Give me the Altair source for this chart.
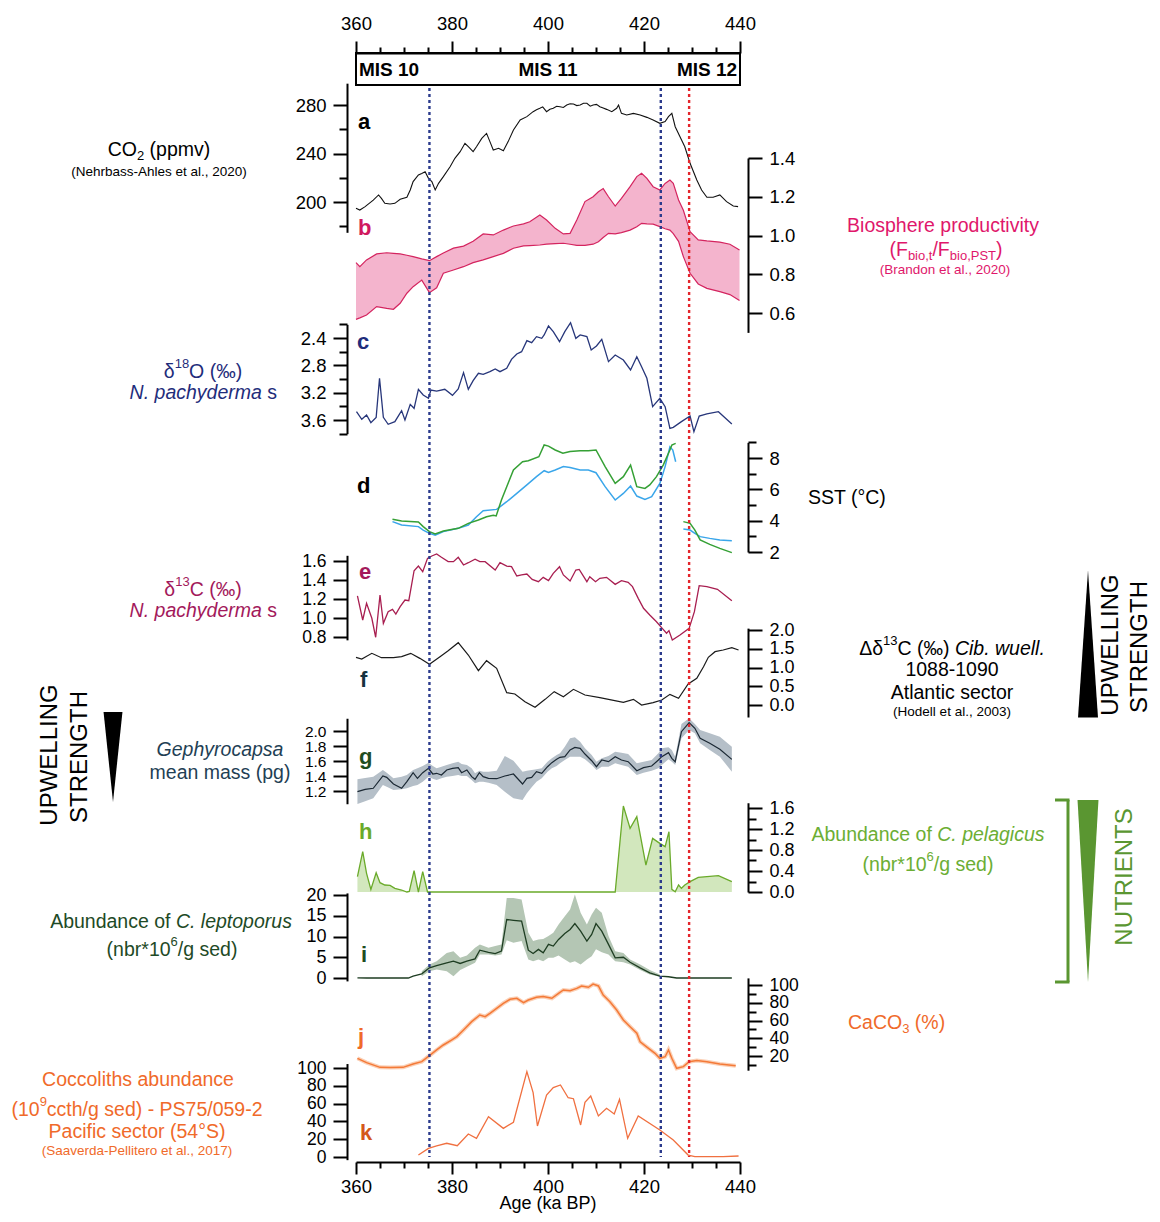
import altair as alt
import pandas as pd

FONT = "Liberation Sans"
L0, T0 = 356, 53          # page position of the plot-area origin
W, H = 384, 1109

# ------------------------------------------------------------------ data
# a  CO2 (ppmv)
co2_age = [360.0, 360.8, 361.9, 363.6, 364.7, 365.3, 366.0, 367.1, 368.1, 369.2, 370.6, 371.3, 371.9, 373.0, 373.7, 374.4,
           375.1, 375.8, 376.5, 377.2, 378.2, 379.6, 380.6, 381.7, 382.7, 383.4, 384.4, 385.1, 386.2, 387.2, 387.9, 388.6,
           389.7, 390.7, 391.7, 392.8, 394.2, 395.6, 396.9, 397.6, 398.3, 398.9, 399.7, 400.4, 401.1, 401.8, 402.5, 403.2,
           403.9, 404.6, 405.3, 406.0, 406.7, 407.4, 408.1, 408.8, 409.4, 410.1, 410.8, 411.5, 412.2, 413.3, 414.3, 414.7,
           415.3, 416.4, 417.8, 419.2, 420.6, 421.9, 423.3, 424.4, 425.1, 425.8, 426.5, 427.5, 428.5, 429.6, 431.0, 432.0,
           433.1, 434.4, 435.8, 437.2, 438.6, 439.6]
co2_val = [194.8, 193.4, 196.2, 201.6, 205.8, 203.0, 198.9, 198.4, 198.9, 202.2, 203.9, 209.9, 216.8, 222.3, 223.6, 225.0,
           219.5, 216.8, 209.9, 215.4, 220.9, 229.1, 236.0, 241.5, 248.4, 245.6, 241.5, 245.6, 252.5, 256.6, 249.8, 242.9,
           244.3, 242.3, 249.8, 259.4, 267.6, 270.4, 274.5, 276.0, 277.3, 278.5, 274.5, 276.5, 277.3, 279.0, 278.6, 278.0,
           280.0, 281.0, 280.8, 279.5, 280.0, 281.5, 281.4, 279.0, 280.0, 280.5, 278.6, 277.5, 276.4, 274.5, 277.3, 280.0,
           273.1, 271.8, 273.1, 271.8, 269.8, 267.6, 264.9, 266.3, 270.4, 273.1, 262.1, 253.9, 245.6, 231.9, 218.1, 209.9,
           203.9, 203.9, 205.8, 200.3, 196.7, 196.2]

# b  Biosphere productivity (band)
bio_age = [360.0, 360.8, 362.2, 364.3, 366.4, 367.8, 369.2, 370.6, 371.9, 373.7, 375.3, 376.8, 378.2, 380.3, 382.4, 384.4,
           386.5, 388.6, 390.7, 392.8, 394.9, 396.2, 398.3, 399.7, 401.5, 403.2, 404.6, 406.0, 407.7, 409.4, 410.5, 411.5,
           412.6, 414.0, 415.3, 417.1, 418.5, 419.5, 420.6, 421.9, 423.3, 424.4, 425.4, 426.1, 427.2, 428.2, 429.6, 431.3,
           433.1, 435.8, 437.9, 439.9]
bio_hi = [0.860, 0.839, 0.874, 0.905, 0.911, 0.908, 0.905, 0.898, 0.891, 0.879, 0.870, 0.891, 0.910, 0.935, 0.945, 0.970,
          1.008, 1.003, 1.028, 1.049, 1.060, 1.071, 1.106, 1.080, 1.037, 1.008, 1.011, 1.080, 1.175, 1.200, 1.226, 1.242,
          1.200, 1.152, 1.192, 1.252, 1.304, 1.321, 1.295, 1.252, 1.235, 1.269, 1.286, 1.269, 1.183, 1.130, 1.020, 0.977,
          0.972, 0.966, 0.955, 0.925]
bio_lo = [0.567, 0.575, 0.590, 0.633, 0.624, 0.619, 0.650, 0.702, 0.736, 0.770, 0.705, 0.730, 0.805, 0.822, 0.839, 0.860,
          0.874, 0.891, 0.908, 0.934, 0.946, 0.948, 0.951, 0.955, 0.958, 0.960, 0.955, 0.949, 0.949, 0.955, 0.968, 0.990,
          1.011, 1.008, 1.015, 1.028, 1.045, 1.063, 1.060, 1.059, 1.046, 1.035, 1.028, 1.010, 0.970, 0.891, 0.805, 0.750,
          0.727, 0.710, 0.695, 0.664]

# c  d18O N. pachyderma s
d18o_age = [360.1, 361.2, 362.2, 363.1, 364.2, 364.9, 365.7, 366.7, 368.1, 369.5, 370.2, 371.3, 372.1, 373.0, 374.0, 375.1,
            375.6, 376.8, 378.5, 380.1, 381.3, 382.4, 383.4, 384.4, 385.5, 386.5, 387.9, 389.0, 390.0, 391.4, 392.4, 393.5,
            394.5, 395.6, 396.6, 397.6, 398.7, 399.2, 400.1, 401.1, 402.4, 403.5, 404.7, 405.8, 406.7, 408.1, 409.0, 410.1,
            411.2, 412.6, 414.0, 415.7, 417.2, 418.5, 419.5, 420.6, 421.8, 423.3, 424.4, 425.4, 426.1, 427.8, 429.6, 430.4,
            431.5, 433.1, 435.5, 438.3]
d18o_val = [3.478, 3.590, 3.527, 3.639, 3.561, 2.990, 3.561, 3.663, 3.624, 3.463, 3.600, 3.371, 3.429, 3.151, 3.234, 3.283,
            3.161, 3.176, 3.151, 3.239, 3.146, 2.907, 3.151, 3.024, 2.917, 2.932, 2.893, 2.854, 2.893, 2.844, 2.712, 2.634,
            2.600, 2.439, 2.468, 2.380, 2.405, 2.356, 2.224, 2.307, 2.454, 2.307, 2.176, 2.405, 2.356, 2.380, 2.576, 2.517,
            2.420, 2.746, 2.649, 2.722, 2.868, 2.673, 2.820, 2.990, 3.405, 3.283, 3.405, 3.722, 3.707, 3.624, 3.542, 3.771,
            3.542, 3.512, 3.478, 3.659]

# d  SST (two records, each with a gap)
sstg_age1 = [367.6, 369.5, 373.0, 374.0, 375.3, 376.5, 378.2, 381.3, 383.4, 385.5, 387.2, 388.6, 389.2, 390.3, 391.4, 392.8,
             394.7, 395.9, 398.1, 399.2, 400.1, 401.5, 403.1, 404.6, 406.7, 408.4, 410.0, 411.9, 414.0, 415.7, 417.2, 418.5,
             420.2, 421.2, 422.6, 424.0, 425.4, 425.8, 426.6]
sstg_val1 = [4.09, 3.98, 3.91, 3.62, 3.30, 3.15, 3.34, 3.51, 3.83, 4.04, 4.25, 4.34, 4.30, 5.32, 6.17, 7.23,
             7.76, 7.83, 8.08, 8.83, 8.76, 8.51, 8.30, 8.42, 8.47, 8.47, 8.51, 7.45, 6.38, 6.81, 7.55, 6.17,
             6.06, 6.28, 6.81, 7.55, 8.51, 8.83, 8.93]
sstg_age2 = [428.2, 429.6, 430.6, 431.7, 433.7, 435.8, 438.3]
sstg_val2 = [3.94, 3.83, 3.40, 2.77, 2.49, 2.23, 1.96]
sstb_age1 = [367.6, 369.5, 373.0, 374.0, 375.3, 376.5, 378.2, 381.3, 383.4, 385.1, 386.5, 389.3, 391.4, 393.5, 395.6, 397.6,
             399.2, 400.1, 401.5, 403.2, 404.6, 406.7, 408.4, 410.0, 411.9, 414.0, 415.7, 417.2, 418.5, 420.2, 421.6, 423.3,
             424.4, 425.4, 426.0, 426.6]
sstb_val1 = [3.94, 3.72, 3.62, 3.40, 3.19, 3.08, 3.30, 3.51, 3.72, 4.25, 4.64, 4.72, 5.21, 5.74, 6.28, 6.81,
             7.19, 7.08, 7.23, 7.45, 7.40, 7.23, 7.23, 7.06, 6.17, 5.32, 5.74, 6.21, 5.57, 5.36, 5.53, 6.38,
             7.45, 8.72, 8.51, 7.76]
sstb_age2 = [428.2, 429.6, 430.6, 431.7, 433.7, 435.8, 438.3]
sstb_val2 = [3.47, 3.40, 3.19, 2.98, 2.87, 2.77, 2.72]

# e  d13C N. pachyderma s
d13c_age = [360.3, 361.4, 362.2, 363.3, 364.1, 365.0, 365.7, 366.7, 367.6, 368.3, 369.2, 370.2, 371.0, 372.1, 373.0, 373.9,
            374.9, 375.8, 376.8, 377.8, 379.2, 380.3, 381.3, 382.4, 383.4, 384.8, 385.8, 386.9, 389.0, 390.0, 391.4, 392.4,
            393.5, 394.5, 395.6, 396.7, 398.0, 399.0, 400.1, 401.1, 402.4, 403.2, 404.6, 405.8, 406.5, 408.1, 408.7, 409.9,
            410.8, 412.2, 414.0, 415.3, 416.7, 417.6, 418.8, 419.9, 421.2, 422.6, 423.8, 424.7, 425.2, 425.9, 427.5, 429.4,
            430.5, 431.5, 433.1, 435.3, 438.3]
d13c_val = [1.232, 0.979, 1.155, 0.997, 0.797, 1.242, 0.944, 1.067, 1.091, 1.042, 1.119, 1.189, 1.182, 1.498, 1.547, 1.488,
            1.628, 1.653, 1.674, 1.639, 1.593, 1.593, 1.639, 1.558, 1.582, 1.618, 1.593, 1.593, 1.505, 1.582, 1.547, 1.540,
            1.442, 1.453, 1.463, 1.407, 1.382, 1.428, 1.393, 1.470, 1.540, 1.453, 1.389, 1.505, 1.512, 1.382, 1.435, 1.382,
            1.418, 1.428, 1.354, 1.393, 1.375, 1.330, 1.207, 1.102, 1.032, 0.961, 0.891, 0.839, 0.867, 0.768, 0.821, 0.891,
            1.067, 1.340, 1.330, 1.302, 1.182]

# f  Delta d13C Cib. wuell. 1088-1090
dd13c_age = [360.0, 361.2, 363.3, 365.3, 367.8, 369.5, 371.4, 373.3, 375.3, 377.5, 379.2, 381.3, 383.4, 385.5, 387.2, 389.3,
             391.4, 393.1, 395.2, 397.3, 399.4, 401.3, 403.2, 405.3, 407.7, 410.8, 415.7, 417.8, 419.5, 421.9, 423.7, 425.4,
             427.2, 429.2, 431.0, 432.4, 433.4, 434.8, 436.5, 438.3, 439.7]
dd13c_val = [1.271, 1.227, 1.378, 1.262, 1.262, 1.289, 1.378, 1.244, 1.084, 1.289, 1.449, 1.662, 1.333, 0.916, 1.182, 0.978,
             0.329, 0.293, 0.089, -0.062, 0.151, 0.356, 0.222, 0.418, 0.267, 0.196, 0.071, 0.151, 0.000, 0.062, 0.133, 0.284,
             0.178, 0.560, 0.711, 1.022, 1.271, 1.422, 1.467, 1.529, 1.467]

# g  Gephyrocapsa mean mass (pg) with envelope
geph_age = [360.3, 361.9, 363.6, 365.6, 366.4, 367.8, 369.5, 370.6, 371.9, 372.8, 373.9, 375.1, 376.0, 376.8, 377.8, 378.9,
            380.1, 381.3, 382.0, 383.1, 384.1, 384.8, 385.7, 386.5, 387.6, 389.3, 391.0, 392.8, 394.7, 395.6, 396.6, 397.6,
            398.7, 399.9, 400.8, 401.8, 402.5, 403.5, 404.6, 405.6, 406.7, 407.7, 409.1, 410.1, 411.2, 412.6, 414.0, 415.3,
            416.7, 418.5, 419.9, 421.6, 423.0, 423.7, 425.1, 425.8, 426.5, 427.8, 429.4, 430.6, 431.7, 433.7, 435.8, 438.3]
geph_mean = [1.191, 1.222, 1.236, 1.400, 1.382, 1.293, 1.236, 1.324, 1.444, 1.369, 1.444, 1.502, 1.427, 1.436, 1.413, 1.480,
             1.502, 1.511, 1.444, 1.480, 1.391, 1.356, 1.444, 1.391, 1.369, 1.364, 1.400, 1.427, 1.293, 1.369, 1.382, 1.458,
             1.436, 1.524, 1.578, 1.622, 1.649, 1.658, 1.747, 1.782, 1.769, 1.693, 1.604, 1.524, 1.613, 1.591, 1.658, 1.613,
             1.591, 1.471, 1.511, 1.533, 1.613, 1.658, 1.711, 1.636, 1.591, 1.991, 2.111, 2.036, 1.902, 1.836, 1.756, 1.622]
geph_hi = [1.356, 1.373, 1.391, 1.480, 1.444, 1.369, 1.391, 1.413, 1.480, 1.502, 1.533, 1.578, 1.533, 1.502, 1.524, 1.547,
           1.569, 1.591, 1.560, 1.547, 1.502, 1.436, 1.471, 1.458, 1.458, 1.471, 1.667, 1.604, 1.458, 1.471, 1.480, 1.489,
           1.502, 1.591, 1.636, 1.680, 1.702, 1.791, 1.902, 1.916, 1.858, 1.769, 1.680, 1.591, 1.636, 1.667, 1.724, 1.711,
           1.693, 1.569, 1.591, 1.613, 1.702, 1.769, 1.782, 1.747, 1.658, 2.093, 2.169, 2.093, 2.013, 1.969, 1.924, 1.791]
geph_lo = [1.027, 1.062, 1.102, 1.280, 1.258, 1.213, 1.222, 1.236, 1.267, 1.280, 1.324, 1.391, 1.364, 1.347, 1.369, 1.391,
           1.400, 1.413, 1.400, 1.400, 1.347, 1.302, 1.324, 1.324, 1.311, 1.280, 1.191, 1.102, 1.080, 1.169, 1.249, 1.324,
           1.369, 1.458, 1.502, 1.533, 1.569, 1.613, 1.658, 1.658, 1.658, 1.622, 1.547, 1.480, 1.524, 1.524, 1.569, 1.547,
           1.524, 1.413, 1.444, 1.471, 1.502, 1.547, 1.622, 1.591, 1.547, 1.902, 2.013, 1.969, 1.836, 1.747, 1.658, 1.458]

# h  C. pelagicus abundance
pel_age = [360.3, 361.4, 362.2, 363.1, 364.2, 365.0, 366.0, 367.1, 368.1, 369.5, 370.6, 371.1, 372.1, 373.0, 373.9, 374.9,
           375.4, 414.0, 415.7, 417.1, 418.5, 420.4, 421.8, 423.3, 424.4, 425.2, 425.8, 426.5, 427.2, 427.8, 428.5, 429.6,
           431.3, 433.1, 435.5, 438.3]
pel_val = [0.292, 0.768, 0.356, 0.051, 0.368, 0.178, 0.133, 0.127, 0.070, 0.038, 0.000, 0.010, 0.406, 0.000, 0.387, 0.000,
           0.000, 0.000, 1.638, 1.213, 1.435, 0.514, 1.022, 0.927, 0.864, 1.149, 0.051, 0.006, 0.133, 0.070, 0.133, 0.197,
           0.279, 0.292, 0.311, 0.197]

# i  C. leptoporus abundance with envelope
lep_age = [360.3, 362.2, 364.3, 367.1, 369.2, 370.9, 371.9, 373.7, 375.3, 376.8, 378.9, 380.3, 381.7, 383.1, 384.8, 385.8,
           387.6, 389.0, 390.3, 391.4, 392.8, 394.5, 395.9, 396.9, 398.0, 399.0, 400.1, 401.1, 402.2, 403.5, 404.6, 405.6,
           406.8, 408.1, 409.1, 410.0, 411.2, 412.6, 414.0, 415.7, 417.1, 419.2, 421.2, 423.3, 425.1, 426.8, 429.6, 433.1,
           438.3]
lep_mean = [0.05, 0.0, 0.0, 0.05, 0.0, 0.0, 0.45, 1.0, 2.45, 3.0, 3.65, 4.05, 3.5, 4.05, 4.6, 6.7,
            6.2, 5.9, 6.5, 14.1, 13.9, 13.7, 6.7, 5.9, 6.9, 6.05, 8.1, 7.7, 9.3, 10.7, 11.7, 13.1,
            11.3, 8.9, 10.5, 13.1, 11.3, 8.1, 4.85, 5.0, 3.8, 2.45, 1.25, 0.45, 0.3, 0.0, 0.0, 0.0,
            0.0]
lepb_age = [373.7, 375.3, 376.8, 378.9, 380.3, 381.7, 383.1, 384.8, 385.8, 387.6, 389.0, 390.3, 391.4, 392.8, 394.5, 395.9,
            396.9, 398.0, 399.0, 400.1, 401.1, 402.2, 403.5, 404.6, 405.6, 406.8, 408.1, 409.1, 410.0, 411.2, 412.6, 414.0,
            415.7, 417.1, 419.2, 421.2, 423.3]
lepb_lo = [0.45, 1.65, 2.05, 1.65, 0.45, 1.9, 2.7, 3.65, 5.65, 5.65, 5.4, 5.65, 9.1, 8.5, 8.9, 4.45,
           4.05, 4.45, 4.05, 4.85, 4.85, 5.4, 4.45, 3.65, 4.05, 3.25, 4.45, 5.25, 6.9, 6.2, 5.65, 4.05,
           3.8, 3.25, 1.9, 0.85, 0.3]
lepb_hi = [1.65, 3.25, 4.05, 6.05, 6.45, 4.85, 5.4, 7.3, 8.1, 7.3, 7.7, 8.1, 19.3, 19.3, 18.9, 10.9,
           8.9, 9.3, 9.4, 10.1, 10.9, 12.9, 14.9, 16.5, 20.1, 15.7, 12.9, 15.3, 16.9, 15.7, 10.1, 6.45,
           6.05, 4.45, 3.25, 1.9, 0.85]

# j  CaCO3 (%)
caco3_age = [360.3, 362.2, 365.0, 367.1, 369.8, 371.9, 373.7, 375.1, 376.8, 378.2, 379.9, 381.0, 382.4, 384.1, 385.8, 386.9,
             387.9, 389.3, 390.7, 392.1, 393.5, 394.9, 395.9, 397.6, 399.0, 400.8, 402.2, 403.2, 404.6, 406.0, 407.0, 408.4,
             409.4, 410.5, 411.5, 412.9, 414.3, 415.7, 417.1, 418.5, 419.2, 420.6, 422.3, 423.3, 424.4, 425.1, 425.8, 426.8,
             428.2, 429.4, 431.0, 433.1, 435.8, 439.1]
caco3_val = [17.4, 12.5, 7.2, 7.0, 7.2, 11.0, 13.6, 19.5, 26.8, 32.4, 38.0, 41.8, 49.3, 58.7, 66.2, 64.3,
             68.1, 73.7, 79.4, 83.9, 85.0, 80.1, 83.1, 86.1, 86.9, 85.0, 90.6, 94.4, 93.6, 96.2, 98.9, 97.4,
             101.0, 98.9, 88.7, 81.2, 71.8, 60.6, 53.0, 45.6, 36.0, 30.0, 23.0, 17.4, 19.2, 26.8, 17.4, 6.1,
             8.0, 13.6, 14.8, 13.6, 11.0, 9.1]

# k  Coccoliths abundance PS75/059-2
cocco_age = [373.0, 375.1, 376.8, 378.9, 381.1, 383.4, 385.1, 387.6, 390.7, 392.8, 395.6, 396.9, 397.8, 399.7, 401.1, 402.6,
             404.2, 405.3, 406.8, 407.7, 408.9, 410.5, 412.2, 413.8, 414.9, 416.6, 418.8, 423.3, 426.1, 429.2, 430.6, 433.1,
             436.5, 439.7]
cocco_val = [2.2, 9.7, 12.4, 15.4, 12.7, 25.8, 21.0, 45.3, 32.2, 39.0, 95.9, 72.3, 34.8, 69.7, 77.9, 80.9,
             66.6, 65.5, 36.0, 61.4, 68.5, 46.1, 54.7, 48.3, 64.8, 21.0, 46.1, 30.3, 19.1, 2.2, 0.4, 0.4,
             0.4, 1.1]

# marine isotope stages and event lines
mis_names = ["MIS 10", "MIS 11", "MIS 12"]
mis_age = [360.6, 400.0, 439.4]
event_age = [375.3, 423.5, 429.4]
event_color = ["#2b3a8c", "#2b3a8c", "#e4252b"]
x_major = [360, 380, 400, 420, 440]
x_minor = [365, 370, 375, 385, 390, 395, 405, 410, 415, 425, 430, 435]

# ------------------------------------------------------------------ layout of the stacked panels
P = {
    'a': dict(anch=((280, 105), (200, 202)), dom=(175, 298), side='left', major=[200, 240, 280], minor=[180, 220, 260], fmt='d', fs=18.5),
    'b': dict(anch=((1.4, 158), (0.6, 313)), dom=(0.5, 1.4), side='right', major=[0.6, 0.8, 1.0, 1.2, 1.4], minor=[], fmt='.1f', fs=18.5),
    'c': dict(anch=((2.4, 338), (3.6, 420)), dom=(2.2, 3.8), side='left', major=[2.4, 2.8, 3.2, 3.6], minor=[2.2, 2.6, 3.0, 3.4, 3.8], fmt='.1f', fs=18.5),
    'd': dict(anch=((8, 458), (2, 552)), dom=(2, 9), side='right', major=[2, 4, 6, 8], minor=[3, 5, 7, 9], fmt='d', fs=18.5),
    'e': dict(anch=((1.6, 561), (0.8, 637)), dom=(0.77, 1.66), side='left', major=[0.8, 1.0, 1.2, 1.4, 1.6], minor=[], fmt='.1f', fs=17.5),
    'f': dict(anch=((2.0, 630), (0.0, 705)), dom=(-0.32, 2.05), side='right', major=[0.0, 0.5, 1.0, 1.5, 2.0], minor=[], fmt='.1f', fs=18),
    'g': dict(anch=((2.0, 731), (1.2, 791)), dom=(1.03, 2.17), side='left', major=[1.2, 1.4, 1.6, 1.8, 2.0], minor=[], fmt='.1f', fs=15.5),
    'h': dict(anch=((1.6, 808), (0.0, 892)), dom=(0.0, 1.7), side='right', major=[0.0, 0.4, 0.8, 1.2, 1.6], minor=[0.2, 0.6, 1.0, 1.4], fmt='.1f', fs=18),
    'i': dict(anch=((20, 895), (0, 978)), dom=(-0.7, 20.5), side='left', major=[0, 5, 10, 15, 20], minor=[], fmt='d', fs=18),
    'j': dict(anch=((100, 985), (20, 1056)), dom=(4, 108), side='right', major=[20, 40, 60, 80, 100], minor=[10, 30, 50, 70, 90], fmt='d', fs=17.5),
    'k': dict(anch=((100, 1068), (0, 1157)), dom=(-3, 105), side='left', major=[0, 20, 40, 60, 80, 100], minor=[], fmt='d', fs=17.5),
}

XS = alt.Scale(domain=[360, 440], nice=False, zero=False)


def X():
    return alt.X('age:Q', scale=XS, axis=None)


def py(p, v):
    (v1, y1), (v2, y2) = P[p]['anch']
    return y1 + (v - v1) * (y2 - y1) / (v2 - v1) - T0


def ysc(p):
    d = P[p]['dom']
    return alt.Scale(domain=list(d), range=[py(p, d[0]), py(p, d[1])], nice=False, zero=False)


def yaxis(p):
    c = P[p]
    left = c['side'] == 'left'
    return alt.Axis(orient=c['side'], offset=9 if left else 8, values=c['major'], format=c['fmt'],
                    tickSize=14, tickWidth=2, domainWidth=2, domainColor='black', tickColor='black',
                    labelColor='black', labelFont=FONT, labelFontSize=c['fs'], labelPadding=7, grid=False,
                    title=None, labelOverlap=False, labelFlush=False, labelBound=False)


def yminor(p):
    c = P[p]
    left = c['side'] == 'left'
    return alt.Axis(orient=c['side'], offset=9 if left else 8, values=c['minor'], tickSize=8, tickWidth=2,
                    tickColor='black', labels=False, domain=False, grid=False, title=None)


def Y(p, field, axis=None):
    return alt.Y(field, type='quantitative', scale=ysc(p), axis=axis)


layers = []


def panel_axes(p, data, field):
    layers.append(alt.Chart(data).mark_point(opacity=0).encode(x=X(), y=Y(p, field, yaxis(p))))
    if P[p]['minor']:
        layers.append(alt.Chart(data).mark_point(opacity=0).encode(x=X(), y=Y(p, field, yminor(p))))


# a
a_df = pd.DataFrame({'age': co2_age, 'v': co2_val})
layers.append(alt.Chart(a_df).mark_line(color='#111111', strokeWidth=1.1).encode(x=X(), y=Y('a', 'v')))
panel_axes('a', a_df, 'v')

# b
b_df = pd.DataFrame({'age': bio_age, 'hi': bio_hi, 'lo': bio_lo})
layers.append(alt.Chart(b_df).mark_area(color='#f4b4cd', opacity=1).encode(x=X(), y=Y('b', 'hi'), y2='lo'))
layers.append(alt.Chart(b_df).mark_line(color='#d4245f', strokeWidth=1.2).encode(x=X(), y=Y('b', 'hi')))
layers.append(alt.Chart(b_df).mark_line(color='#d4245f', strokeWidth=1.2).encode(x=X(), y=Y('b', 'lo')))
panel_axes('b', b_df, 'hi')

# c
c_df = pd.DataFrame({'age': d18o_age, 'v': d18o_val})
layers.append(alt.Chart(c_df).mark_line(color='#27367a', strokeWidth=1.3).encode(x=X(), y=Y('c', 'v')))
panel_axes('c', c_df, 'v')

# d
dg = pd.concat([pd.DataFrame({'age': sstg_age1, 'v': sstg_val1, 'seg': 1}),
                pd.DataFrame({'age': sstg_age2, 'v': sstg_val2, 'seg': 2})])
db = pd.concat([pd.DataFrame({'age': sstb_age1, 'v': sstb_val1, 'seg': 1}),
                pd.DataFrame({'age': sstb_age2, 'v': sstb_val2, 'seg': 2})])
layers.append(alt.Chart(db).mark_line(color='#3aa6ea', strokeWidth=1.5).encode(x=X(), y=Y('d', 'v'), detail='seg:N'))
layers.append(alt.Chart(dg).mark_line(color='#35a035', strokeWidth=1.5).encode(x=X(), y=Y('d', 'v'), detail='seg:N'))
panel_axes('d', dg, 'v')

# e
e_df = pd.DataFrame({'age': d13c_age, 'v': d13c_val})
layers.append(alt.Chart(e_df).mark_line(color='#a81e50', strokeWidth=1.3).encode(x=X(), y=Y('e', 'v')))
panel_axes('e', e_df, 'v')

# f
f_df = pd.DataFrame({'age': dd13c_age, 'v': dd13c_val})
layers.append(alt.Chart(f_df).mark_line(color='#1a1a1a', strokeWidth=1.2).encode(x=X(), y=Y('f', 'v')))
panel_axes('f', f_df, 'v')

# g
g_df = pd.DataFrame({'age': geph_age, 'm': geph_mean, 'hi': geph_hi, 'lo': geph_lo})
layers.append(alt.Chart(g_df).mark_area(color='#b5bfc8', opacity=1).encode(x=X(), y=Y('g', 'hi'), y2='lo'))
layers.append(alt.Chart(g_df).mark_line(color='#1b2833', strokeWidth=1.2).encode(x=X(), y=Y('g', 'm')))
panel_axes('g', g_df, 'm')

# h
h_df = pd.DataFrame({'age': pel_age, 'v': pel_val})
layers.append(alt.Chart(h_df).mark_area(color='#d2e7bd', opacity=1, line={'color': '#6aaa2a', 'strokeWidth': 1.3}).encode(x=X(), y=Y('h', 'v')))
panel_axes('h', h_df, 'v')

# i
i_df = pd.DataFrame({'age': lep_age, 'm': lep_mean})
ib_df = pd.DataFrame({'age': lepb_age, 'hi': lepb_hi, 'lo': lepb_lo})
layers.append(alt.Chart(ib_df).mark_area(color='#b4c6b4', opacity=1).encode(x=X(), y=Y('i', 'hi'), y2='lo'))
layers.append(alt.Chart(i_df).mark_line(color='#1e3d22', strokeWidth=1.3).encode(x=X(), y=Y('i', 'm')))
panel_axes('i', i_df, 'm')

# j
j_df = pd.DataFrame({'age': caco3_age, 'v': caco3_val})
layers.append(alt.Chart(j_df).mark_line(color='#fbd0b6', strokeWidth=4).encode(x=X(), y=Y('j', 'v')))
layers.append(alt.Chart(j_df).mark_line(color='#f47a38', strokeWidth=1.5).encode(x=X(), y=Y('j', 'v')))
panel_axes('j', j_df, 'v')

# k
k_df = pd.DataFrame({'age': cocco_age, 'v': cocco_val})
layers.append(alt.Chart(k_df).mark_line(color='#f07040', strokeWidth=1.3).encode(x=X(), y=Y('k', 'v')))
panel_axes('k', k_df, 'v')

# event lines
ev_df = pd.DataFrame({'age': event_age, 'c': event_color})
layers.append(alt.Chart(ev_df).mark_rule(strokeDash=[3, 3], strokeWidth=2.4).encode(
    x=X(), y=alt.value(88 - T0), y2=alt.value(1157 - T0), color=alt.Color('c:N', scale=None)))

# x axes (top and bottom, major + minor ticks)
xdf = pd.DataFrame({'age': [360, 440]})


def xaxis(orient, vals, size, labels, domain, pad):
    kw = dict(orient=orient, values=vals, tickSize=size, tickWidth=2, domainWidth=2, domainColor='black',
              tickColor='black', grid=False, title=None, labels=labels, domain=domain)
    if labels:
        kw.update(labelFontSize=18.5, labelColor='black', labelFont=FONT, labelPadding=pad, format='d', labelFlush=False)
    layers.append(alt.Chart(xdf).mark_point(opacity=0).encode(x=alt.X('age:Q', scale=XS, axis=alt.Axis(**kw))))


xaxis('bottom', x_major, 12, True, True, 3)
xaxis('bottom', x_minor, 6, False, False, 0)
xaxis('top', x_major, 12, True, True, 8)
xaxis('top', x_minor, 6, False, False, 0)

# MIS box
mis_box = pd.DataFrame({'x0': [360], 'x1': [440]})
layers.append(alt.Chart(mis_box).mark_rect(fillOpacity=0, stroke='black', strokeWidth=2).encode(
    x=alt.X('x0:Q', scale=XS, axis=None), x2='x1:Q', y=alt.value(0), y2=alt.value(32)))
for nm, ag, al in zip(mis_names, mis_age, ['left', 'center', 'right']):
    layers.append(alt.Chart(pd.DataFrame({'age': [ag]})).mark_text(
        text=nm, fontSize=19, fontWeight='bold', font=FONT, align=al, baseline='middle', color='black').encode(
        x=X(), y=alt.value(17)))

# ------------------------------------------------------------------ annotations
ONE = pd.DataFrame({'k': [0]})
AW = {' ': 278, '(': 333, ')': 333, '*': 389, '-': 333, '.': 278, ',': 278, '/': 278, '%': 889, '°': 400,
      '‰': 1000, 'δ': 556, 'Δ': 668,
      'A': 667, 'B': 667, 'C': 722, 'D': 722, 'E': 667, 'F': 611, 'G': 778, 'H': 722, 'I': 278, 'L': 556,
      'M': 833, 'N': 722, 'O': 778, 'P': 667, 'R': 722, 'S': 667, 'T': 611, 'U': 722, 'W': 944,
      'a': 556, 'b': 556, 'c': 500, 'd': 556, 'e': 556, 'f': 278, 'g': 556, 'h': 556, 'i': 222, 'j': 222,
      'k': 500, 'l': 222, 'm': 833, 'n': 556, 'o': 556, 'p': 556, 'r': 333, 's': 500, 't': 278, 'u': 556,
      'v': 500, 'w': 722, 'y': 500}


def width(s, size):
    return sum(AW.get(ch, 556) for ch in s) / 1000.0 * size


def txt(x, y, s, size=19.5, color='black', align='left', style='normal', weight='normal', angle=0, baseline='middle'):
    mk = dict(text=s, fontSize=size, color=color, align=align, baseline=baseline, font=FONT)
    if style != 'normal':
        mk['fontStyle'] = style
    if weight != 'normal':
        mk['fontWeight'] = weight
    if angle:
        mk['angle'] = angle
    layers.append(alt.Chart(ONE).mark_text(**mk).encode(x=alt.value(x - L0), y=alt.value(y - T0)))


KIND = {'n': (19.5, 0, 'normal'), 'i': (19.5, 0, 'italic'), 'sup': (13, -8, 'normal'),
        'sub': (13, 6, 'normal'), 's': (13.5, 0, 'normal')}


def tline(segs, x, y, color='black', align='center'):
    items = []
    for t, k in segs:
        size, dy, style = KIND[k]
        lead = len(t) - len(t.lstrip(' '))
        t2 = t.lstrip(' ')
        items.append((t2, size, dy, style, lead * 0.278 * size, width(t2, size)))
    total = sum(a[4] + a[5] for a in items)
    x0 = x - total / 2 if align == 'center' else (x - total if align == 'right' else x)
    for t2, size, dy, style, lw, w in items:
        x0 += lw
        txt(x0, y + dy, t2, size, color, 'left', style)
        x0 += w


NAVY, CRIM, PINK = '#1f2d7b', '#a3195b', '#e0176b'
SLATE, DGREEN, LGREEN, ORANGE, MGREEN = '#1f3f55', '#1e4a26', '#6cae34', '#f06a2a', '#5a9631'

# left-hand labels
tline([("CO", 'n'), ("2", 'sub'), (" (ppmv)", 'n')], 159, 150)
tline([("(Nehrbass-Ahles et al., 2020)", 's')], 159, 172)
tline([("δ", 'n'), ("18", 'sup'), ("O (‰)", 'n')], 203, 372, NAVY)
tline([("N. pachyderma", 'i'), (" s", 'n')], 277, 393, NAVY, 'right')
tline([("δ", 'n'), ("13", 'sup'), ("C (‰)", 'n')], 203, 590, CRIM)
tline([("N. pachyderma", 'i'), (" s", 'n')], 277, 611, CRIM, 'right')
tline([("Gephyrocapsa", 'i')], 220, 750, SLATE)
tline([("mean mass (pg)", 'n')], 220, 773, SLATE)
tline([("Abundance of ", 'n'), ("C. leptoporus", 'i')], 171, 922, DGREEN)
tline([("(nbr*10", 'n'), ("6", 'sup'), ("/g sed)", 'n')], 172, 950, DGREEN)
tline([("Coccoliths abundance", 'n')], 138, 1080, ORANGE)
tline([("(10", 'n'), ("9", 'sup'), ("ccth/g sed) - PS75/059-2", 'n')], 137, 1110, ORANGE)
tline([("Pacific sector (54°S)", 'n')], 137, 1132, ORANGE)
tline([("(Saaverda-Pellitero et al., 2017)", 's')], 137, 1151, ORANGE)

# right-hand labels
tline([("Biosphere productivity", 'n')], 943, 226, PINK)
tline([("(F", 'n'), ("bio,t", 'sub'), ("/F", 'n'), ("bio,PST", 'sub'), (")", 'n')], 946, 250, PINK)
tline([("(Brandon et al., 2020)", 's')], 945, 270, PINK)
tline([("SST (°C)", 'n')], 808, 498, 'black', 'left')
tline([("Δδ", 'n'), ("13", 'sup'), ("C (‰) ", 'n'), ("Cib. wuell.", 'i')], 952, 649)
tline([("1088-1090", 'n')], 952, 670)
tline([("Atlantic sector", 'n')], 952, 693)
tline([("(Hodell et al., 2003)", 's')], 952, 712)
tline([("Abundance of ", 'n'), ("C. pelagicus", 'i')], 928, 835, LGREEN)
tline([("(nbr*10", 'n'), ("6", 'sup'), ("/g sed)", 'n')], 928, 865, LGREEN)
tline([("CaCO", 'n'), ("3", 'sub'), (" (%)", 'n')], 848, 1023, ORANGE, 'left')

# x-axis title (anchored at its bottom so it stays inside the page)
txt(548, 1213, "Age (ka BP)", 18, 'black', 'center', baseline='bottom')

# panel letters
for ch, x, y, col in [('a', 358, 122, '#000000'), ('b', 358, 228, '#d0195e'), ('c', 357, 342, NAVY),
                      ('d', 357, 486, '#000000'), ('e', 359, 572, CRIM), ('f', 360, 680, '#17323f'),
                      ('g', 359, 757, '#1f4d1f'), ('h', 359, 832, '#6aaa2a'), ('i', 361, 955, '#1f4d1f'),
                      ('j', 358, 1037, ORANGE), ('k', 360, 1133, '#d4581a')]:
    txt(x, y, ch, 22, col, 'left', 'normal', 'bold')

# rotated side words
txt(50, 755, "UPWELLING", 24, 'black', 'center', angle=270)
txt(80, 757, "STRENGTH", 24, 'black', 'center', angle=270)
txt(1111, 645, "UPWELLING", 24, 'black', 'center', angle=270)
txt(1140, 647, "STRENGTH", 24, 'black', 'center', angle=270)
txt(1125, 877, "NUTRIENTS", 24, MGREEN, 'center', angle=270)


def tri(x, y, path, size, color):
    layers.append(alt.Chart(ONE).mark_point(shape=path, size=size, filled=True, color=color, opacity=1,
                                            strokeWidth=0).encode(x=alt.value(x - L0), y=alt.value(y - T0)))


def rule(x1, y1, x2, y2, color, w):
    layers.append(alt.Chart(ONE).mark_rule(color=color, strokeWidth=w).encode(
        x=alt.value(x1 - L0), y=alt.value(y1 - T0), x2=alt.value(x2 - L0), y2=alt.value(y2 - T0)))


tri(113, 757, "M-0.21,-1L0.21,-1L0,1Z", 8100, 'black')
tri(1088, 644, "M0,-1L0.136,1L-0.136,1Z", 21609, 'black')
tri(1088, 891, "M-0.115,-1L0.115,-1L0,1Z", 33124, MGREEN)
rule(1068, 800, 1068, 982, MGREEN, 3)
rule(1055, 800, 1069.5, 800, MGREEN, 3)
rule(1055, 982, 1069.5, 982, MGREEN, 3)

chart = alt.layer(*layers).resolve_scale(y='independent').resolve_axis(x='independent', y='independent').properties(
    width=W, height=H, autosize=alt.AutoSizeParams(type='none'),
    padding={'left': 348, 'top': 45, 'right': 412, 'bottom': 52}
).configure_view(stroke=None).configure_axis(grid=False)

chart.save("out.html", embed_options={"renderer": "svg", "actions": False})
